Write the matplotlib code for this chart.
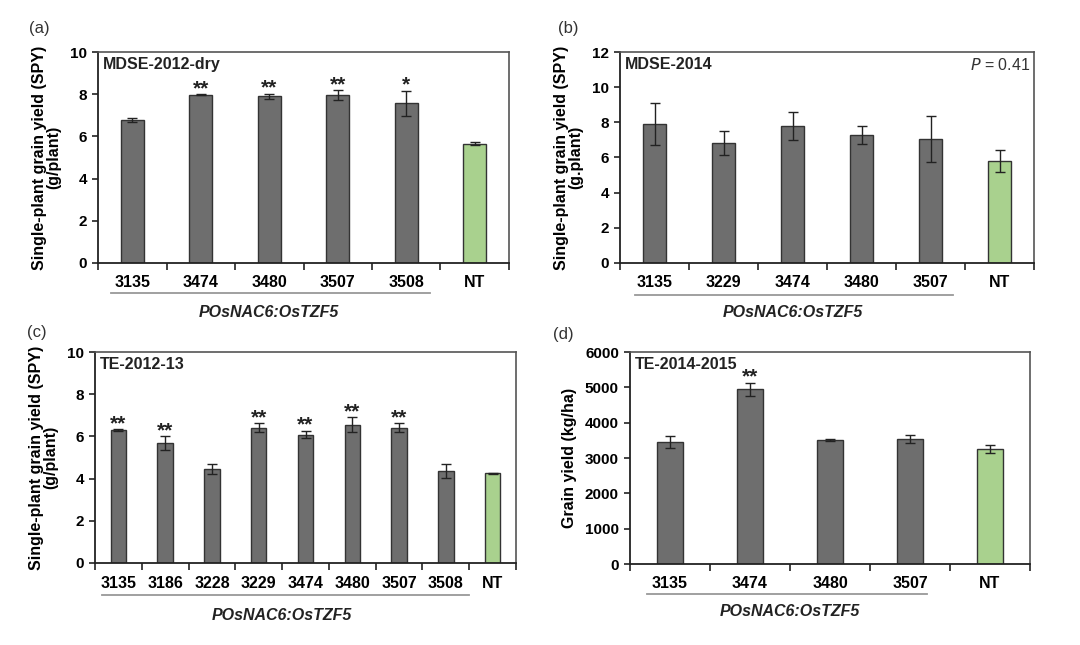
import matplotlib
matplotlib.use("Agg")
import matplotlib.pyplot as plt
import matplotlib.transforms as mtransforms

plt.rcParams['font.family'] = ['Liberation Sans', 'DejaVu Sans']

# ---------------- data ----------------
a_labels = ["3135", "3474", "3480", "3507", "3508", "NT"]
a_values = [6.78, 7.98, 7.91, 7.96, 7.57, 5.66]
a_errors = [0.08, 0.03, 0.12, 0.23, 0.60, 0.07]
a_stars = ["", "**", "**", "**", "*", ""]

b_labels = ["3135", "3229", "3474", "3480", "3507", "NT"]
b_values = [7.92, 6.84, 7.81, 7.28, 7.05, 5.80]
b_errors = [1.20, 0.69, 0.80, 0.51, 1.30, 0.63]
b_stars = ["", "", "", "", "", ""]

c_labels = ["3135", "3186", "3228", "3229", "3474", "3480", "3507", "3508", "NT"]
c_values = [6.29, 5.69, 4.47, 6.42, 6.09, 6.55, 6.42, 4.36, 4.26]
c_errors = [0.04, 0.33, 0.24, 0.20, 0.18, 0.35, 0.20, 0.32, 0.02]
c_stars = ["**", "**", "", "**", "**", "**", "**", "", ""]

d_labels = ["3135", "3474", "3480", "3507", "NT"]
d_values = [3462, 4948, 3518, 3537, 3255]
d_errors = [165, 188, 30, 100, 100]
d_stars = ["", "**", "", "", ""]

group_label = "POsNAC6:OsTZF5"
W, H = 1080, 645
GRAY = "#6e6e6e"
GREEN = "#a9d18e"

fig = plt.figure(figsize=(W / 100, H / 100), dpi=100)


def make_axes(l, r, t, b):
    return fig.add_axes([l / W, 1 - b / H, (r - l) / W, (b - t) / H])


def panel(box, labels, values, errors, stars, ymax, ystep, ylabel, title,
          tag, tag_xy, line_span, line_y, text_y, pval=None, yfmt="{:d}"):
    ax = make_axes(*box)
    n = len(labels)
    x = list(range(n))
    colors = [GRAY] * (n - 1) + [GREEN]
    ax.bar(x, values, width=0.33, color=colors, edgecolor="#333333",
           linewidth=1.0, zorder=2)
    ax.errorbar(x, values, yerr=errors, fmt="none", ecolor="#222222",
                elinewidth=1.0, capsize=3.5, capthick=1.0, zorder=3)
    for xi, v, e, s in zip(x, values, errors, stars):
        if s:
            ax.annotate(s, (xi, v + e), xytext=(0, -3), textcoords="offset points",
                        ha="center", va="bottom", fontsize=15, fontweight="bold",
                        color="#222222")
    ax.set_xlim(-0.5, n - 0.5)
    ax.set_ylim(0, ymax)
    yt = list(range(0, ymax + 1, ystep))
    ax.set_yticks(yt)
    ax.set_yticklabels([yfmt.format(v) for v in yt], fontsize=11,
                       fontweight="bold")
    ax.set_xticks(x)
    ax.set_xticklabels(labels, fontsize=11.5, fontweight="bold")
    ax.tick_params(axis="x", which="major", length=0, pad=9)
    ax.set_xticks([i - 0.5 for i in range(n + 1)], minor=True)
    ax.tick_params(axis="x", which="minor", length=5, width=1.2,
                   direction="out", color="#222222")
    ax.tick_params(axis="y", length=4, width=1.2, direction="out",
                   color="#222222", pad=4)
    for side in ["top", "right"]:
        ax.spines[side].set_color("#555555")
        ax.spines[side].set_linewidth(1.2)
    for side in ["left", "bottom"]:
        ax.spines[side].set_color("#222222")
        ax.spines[side].set_linewidth(1.3)
    ax.set_ylabel(ylabel, fontsize=11.5, fontweight="bold", labelpad=6,
                  linespacing=1.0)
    ax.text(0.012, 0.975, title, transform=ax.transAxes, ha="left", va="top",
            fontsize=11.5, fontweight="bold", color="#222222")
    if pval is not None:
        ax.text(0.99, 0.975, pval, transform=ax.transAxes, ha="right",
                va="top", fontsize=11.5, color="#333333")
    trans = mtransforms.blended_transform_factory(ax.transData, ax.transAxes)
    hgt = box[3] - box[2]
    ly = -line_y / hgt
    ax.plot([line_span[0], line_span[1]], [ly, ly], transform=trans,
            color="#999999", linewidth=1.3, clip_on=False)
    tcenter = (n - 2) / 2
    ax.text(tcenter, -text_y / hgt, group_label, transform=trans, ha="center",
            va="center", fontsize=11.5, fontweight="bold", style="italic",
            color="#222222")
    fig.text(tag_xy[0] / W, 1 - tag_xy[1] / H, tag, fontsize=12,
             ha="center", va="center", color="#333333")
    return ax


panel((98, 509, 52, 263), a_labels, a_values, a_errors, a_stars, 10, 2,
      "Single-plant grain yield (SPY)\n(g/plant)", "MDSE-2012-dry", "(a)",
      (39, 28), (-0.31, 4.34), 30, 50)
panel((620, 1034, 52, 263), b_labels, b_values, b_errors, b_stars, 12, 2,
      "Single-plant grain yield (SPY)\n(g.plant)", "MDSE-2014", "(b)",
      (568, 28), (-0.28, 4.33), 32, 50, pval="$\\mathit{P}$ = 0.41")
panel((95, 516, 352, 563), c_labels, c_values, c_errors, c_stars, 10, 2,
      "Single-plant grain yield (SPY)\n(g/plant)", "TE-2012-13", "(c)",
      (37, 333), (-0.36, 7.5), 32, 52)
panel((630, 1030, 352, 564), d_labels, d_values, d_errors, d_stars, 6000, 1000,
      "Grain yield (kg/ha)", "TE-2014-2015", "(d)",
      (563, 334), (-0.29, 3.21), 30, 47)

fig.savefig("out.png", dpi=100, facecolor="white")
